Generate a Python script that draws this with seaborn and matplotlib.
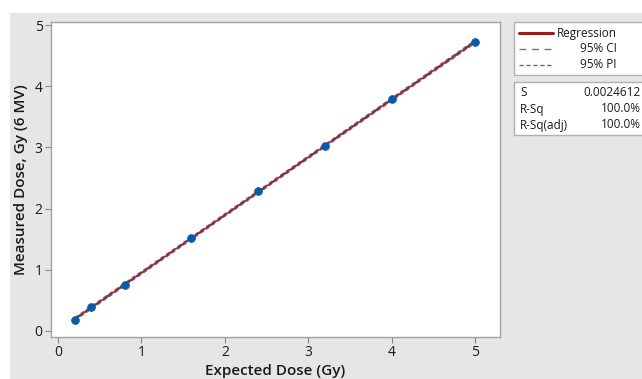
import numpy as np
import pandas as pd
import seaborn as sns
import matplotlib.pyplot as plt
from matplotlib.patches import Rectangle
from matplotlib.lines import Line2D

# data
expected = [0.2, 0.4, 0.8, 1.6, 2.4, 3.2, 4.0, 5.0]
measured = [0.185, 0.385, 0.755, 1.52, 2.285, 3.025, 3.785, 4.72]
x_ticks = [0, 1, 2, 3, 4, 5]
y_ticks = [0, 1, 2, 3, 4, 5]
stats_names = ["S", "R-Sq", "R-Sq(adj)"]
stats_values = ["0.0024612", "100.0%", "100.0%"]

df = pd.DataFrame({"Expected": expected, "Measured": measured})

sns.set_style("white")
plt.rcParams["font.family"] = ["Open Sans", "DejaVu Sans"]

fig = plt.figure(figsize=(6.42, 3.79), dpi=100, facecolor="white")
# grey panel behind the graph
fig.patches.append(Rectangle((10 / 642, 0), 1, 1 - 13 / 379, transform=fig.transFigure,
                             facecolor="#e6e6e6", edgecolor="none", zorder=0))

ax = fig.add_axes([51 / 642, 1 - 337 / 379, 449 / 642, 315 / 379])
ax.set_zorder(2)
ax.set_facecolor("white")

# linear fit with 95% CI and PI
x = np.array(expected)
y = np.array(measured)
n = len(x)
b1, b0 = np.polyfit(x, y, 1)
resid = y - (b0 + b1 * x)
s = np.sqrt(np.sum(resid ** 2) / (n - 2))
t = 2.447  # t(0.975, 6)
xs = np.linspace(x.min(), x.max(), 100)
fit = b0 + b1 * xs
se = s * np.sqrt(1 / n + (xs - x.mean()) ** 2 / np.sum((x - x.mean()) ** 2))
sep = s * np.sqrt(1 + 1 / n + (xs - x.mean()) ** 2 / np.sum((x - x.mean()) ** 2))

for sign in (-1, 1):
    ax.plot(xs, fit + sign * t * sep, color="#8a4aa8", lw=1.0, ls=(0, (3, 2)))
    ax.plot(xs, fit + sign * t * se, color="#3a9a5b", lw=1.0, ls=(0, (5, 4)))
ax.plot(xs, fit, color="#9b1b1f", lw=1.2, alpha=0.9)

sns.scatterplot(data=df, x="Expected", y="Measured", ax=ax, color="#0a5ca8",
                s=32, edgecolor="#0a5ca8", linewidth=0.5, zorder=5)

ax.set_xlim(-0.085, 5.3)
ax.set_ylim(-0.1, 5.05)
ax.set_xticks(x_ticks)
ax.set_yticks(y_ticks)
ax.tick_params(axis="both", direction="out", length=4, width=0.8, color="#888888",
               labelsize=10, labelcolor="#1a1a1a", pad=2)
ax.tick_params(axis="x", bottom=True)
ax.tick_params(axis="y", left=True)
for lab in ax.get_xticklabels() + ax.get_yticklabels():
    lab.set_fontweight("medium")
for sp in ax.spines.values():
    sp.set_color("#a0a0a0")
    sp.set_linewidth(1.0)

ax.set_xlabel("Expected Dose (Gy)", fontsize=11, fontweight="semibold", color="#1a1a1a", labelpad=3)
ax.set_ylabel("Measured Dose, Gy (6 MV)", fontsize=11, fontweight="semibold", color="#1a1a1a", labelpad=5)

# legend box
def box(x0, y0, x1, y1):
    fig.patches.append(Rectangle((x0 / 642, 1 - y1 / 379), (x1 - x0) / 642, (y1 - y0) / 379,
                                 transform=fig.transFigure, facecolor="white",
                                 edgecolor="#b0b0b0", lw=1.0, zorder=1))

box(514, 22, 645, 75)
box(514, 82, 645, 135)

leg_items = [("Regression", "#9b1b1f", "-", 2.2), ("95% CI", "#3a9a5b", (0, (5, 4)), 1.0),
             ("95% PI", "#8a4aa8", (0, (3, 2)), 1.0)]
for i, (lab, col, ls, lw) in enumerate(leg_items):
    yy = 1 - (33 + i * 16) / 379
    fig.add_artist(Line2D([519 / 642, 553 / 642], [yy, yy], transform=fig.transFigure,
                          color=col, ls=ls, lw=lw))
    fig.text(617 / 642, yy, lab, ha="right", va="center", fontsize=8.5, color="#1a1a1a")

for i, (nm, val) in enumerate(zip(stats_names, stats_values)):
    yy = 1 - (93 + i * 16) / 379
    fig.text(520 / 642, yy, nm, ha="left", va="center", fontsize=8.5, color="#1a1a1a")
    fig.text(641 / 642, yy, val, ha="right", va="center", fontsize=8.5, color="#1a1a1a")

fig.savefig("out.png", dpi=100, facecolor=fig.get_facecolor())
